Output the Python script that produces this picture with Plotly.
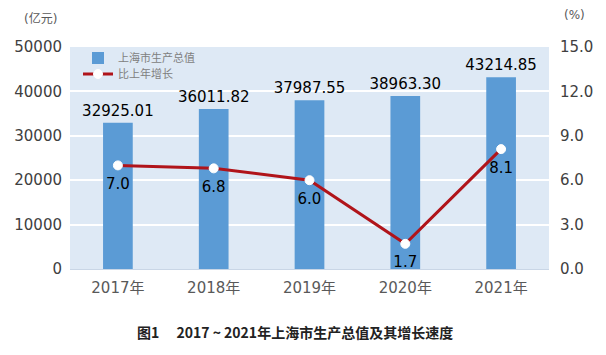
import plotly.graph_objects as go

years = ["2017年", "2018年", "2019年", "2020年", "2021年"]
gdp = [32925.01, 36011.82, 37987.55, 38963.30, 43214.85]
growth = [7.0, 6.8, 6.0, 1.7, 8.1]
left_ticks = [0, 10000, 20000, 30000, 40000, 50000]
right_ticks = [0.0, 3.0, 6.0, 9.0, 12.0, 15.0]

FONT = "DejaVu Sans, Noto Sans CJK SC"
OFF = 8  # page body margin
W, H = 606, 355
L, R, T, B = 70 - OFF, 57 + OFF, 47 - OFF, 86 + OFF
pw = W - L - R
ph = H - T - B

def px(x):
    return (x - OFF - L) / pw

def py(y):
    return (H - B - (y - OFF)) / ph

fig = go.Figure()
fig.add_trace(go.Bar(
    x=years, y=gdp, name="上海市生产总值",
    marker=dict(color="#5B9BD5", line=dict(width=0)),
    width=0.31,
    text=[f"{v:.2f}" for v in gdp], textposition="outside",
    textfont=dict(size=15, color="#000000", family=FONT),
    constraintext="none",
    cliponaxis=False, legend="legend",
))
fig.add_trace(go.Scatter(
    x=years, y=growth, name="比上年增长", yaxis="y2",
    mode="lines+markers",
    line=dict(color="#B0141A", width=3),
    marker=dict(color="white", size=9, line=dict(color="white", width=1)),
    cliponaxis=False, legend="legend2",
))
fig.add_trace(go.Scatter(
    x=years, y=growth, yaxis="y2", mode="markers+text", showlegend=False,
    marker=dict(size=18, opacity=0),
    text=[f"{v:.1f}" for v in growth], textposition="bottom center",
    textfont=dict(size=15, color="#000000", family=FONT),
    cliponaxis=False, hoverinfo="skip",
))

legend_common = dict(xanchor="left", yanchor="middle", bgcolor="rgba(0,0,0,0)",
                     font=dict(size=11, color="#808080", family="Noto Sans CJK SC"),
                     itemwidth=30)

fig.update_layout(
    width=W, height=H,
    margin=dict(l=L, r=R, t=T, b=B, autoexpand=False),
    paper_bgcolor="white", plot_bgcolor="#DEE9F5",
    font=dict(family=FONT, color="#404040"),
    showlegend=True,
    legend=dict(x=px(78), y=py(58), **legend_common),
    legend2=dict(x=px(78), y=py(74), **legend_common),
    xaxis=dict(tickfont=dict(size=15, color="#595959"), showgrid=False,
               showline=True, linecolor="#C9D6E6", linewidth=1, ticks="",
               ticklabelstandoff=5, automargin=False),
    yaxis=dict(range=[0, 50000], tickvals=left_ticks,
               ticktext=[str(v) for v in left_ticks],
               tickfont=dict(size=15, color="#404040"),
               showgrid=True, gridcolor="white", gridwidth=1.5, zeroline=False,
               ticklabelstandoff=7, automargin=False),
    yaxis2=dict(range=[0, 15], tickvals=right_ticks,
                ticktext=[f"{v:.1f}" for v in right_ticks],
                tickfont=dict(size=15, color="#404040"),
                overlaying="y", side="right", showgrid=False, zeroline=False,
                ticklabelstandoff=10, automargin=False),
    bargap=0.69,
    annotations=[
        dict(text="(亿元)", x=px(40), y=py(18), xref="paper", yref="paper", showarrow=False,
             xanchor="center", yanchor="middle",
             font=dict(size=12, color="#595959", family=FONT)),
        dict(text="(%)", x=px(574), y=py(15), xref="paper", yref="paper", showarrow=False,
             xanchor="center", yanchor="middle",
             font=dict(size=12, color="#595959", family=FONT)),
        dict(text="<b>图1\u3000 2017 ~ 2021年上海市生产总值及其增长速度</b>", x=px(295), y=py(332),
             xref="paper", yref="paper", showarrow=False,
             xanchor="center", yanchor="middle",
             font=dict(size=14, color="#222222", family="Noto Sans CJK SC")),
    ],
)
fig.write_html("out.html")
